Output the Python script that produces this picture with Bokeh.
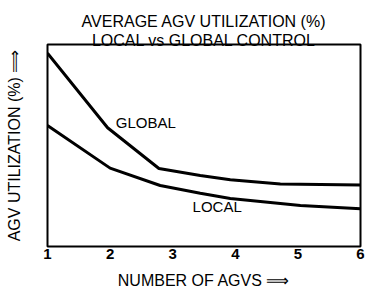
from bokeh.plotting import figure
from bokeh.models import Title, FixedTicker, ColumnDataSource, Range1d
from bokeh.embed import file_html
from bokeh.resources import INLINE
from bokeh.core.properties import value

# --- data ---
agvs_global = [1.0, 1.96, 2.78, 3.44, 3.92, 4.72, 6.0]
util_global = [95.7, 58.8, 38.6, 35.1, 33.0, 31.0, 30.5]
agvs_local = [1.0, 2.0, 2.8, 3.44, 3.92, 5.04, 6.0]
util_local = [59.9, 38.8, 30.2, 26.4, 23.8, 20.3, 18.7]
x_ticks = [1, 2, 3, 4, 5, 6]
series_names = ["GLOBAL", "LOCAL"]
name_x = [2.57, 3.71]
name_y = [61.5, 19.8]

FONT = "Liberation Sans"

p = figure(width=370, height=292, output_backend="svg", toolbar_location=None,
           x_range=Range1d(1, 6), y_range=Range1d(0, 100),
           min_border_left=47, min_border_right=10, min_border_top=44, min_border_bottom=46)

p.background_fill_color = "white"
p.border_fill_color = "white"
p.outline_line_color = "black"
p.outline_line_width = 2
p.xgrid.visible = False
p.ygrid.visible = False

p.line(agvs_global, util_global, line_color="black", line_width=3)
p.line(agvs_local, util_local, line_color="black", line_width=3)

src = ColumnDataSource(dict(x=name_x, y=name_y, t=series_names))
p.text(x="x", y="y", text="t", source=src, text_align="center", text_baseline="middle",
       text_font=value(FONT), text_font_size="15px", text_color="black")

xa = p.xaxis[0]
xa.ticker = FixedTicker(ticks=x_ticks)
xa.axis_line_color = None
xa.major_tick_out = 0
xa.major_tick_in = 0
xa.minor_tick_out = 0
xa.minor_tick_in = 0
xa.major_label_text_font = FONT
xa.major_label_text_font_size = "15px"
xa.major_label_text_font_style = "bold"
xa.major_label_text_color = "black"
xa.major_label_standoff = 2
xa.axis_label = "NUMBER OF AGVS ⟹"
xa.axis_label_text_font = FONT
xa.axis_label_text_font_size = "16px"
xa.axis_label_text_font_style = "normal"
xa.axis_label_text_color = "black"
xa.axis_label_standoff = 10

ya = p.yaxis[0]
ya.ticker = FixedTicker(ticks=[])
ya.axis_line_color = None
ya.major_tick_out = 0
ya.major_tick_in = 0
ya.minor_tick_out = 0
ya.minor_tick_in = 0
ya.major_label_text_font_size = "0px"
ya.axis_label = "AGV UTILIZATION (%) ⟹"
ya.axis_label_text_font = FONT
ya.axis_label_text_font_size = "16px"
ya.axis_label_text_font_style = "normal"
ya.axis_label_text_color = "black"
ya.axis_label_standoff = 25

p.add_layout(Title(text="LOCAL vs GLOBAL CONTROL", align="center", text_font=FONT,
                   text_font_size="16px", text_font_style="normal", text_color="black",
                   standoff=-9, offset=0), "above")
p.add_layout(Title(text="AVERAGE AGV UTILIZATION (%)", align="center", text_font=FONT,
                   text_font_size="16px", text_font_style="normal", text_color="black",
                   standoff=9, offset=0), "above")
p.title.visible = False

open("out.html", "w").write(file_html(p, INLINE))
